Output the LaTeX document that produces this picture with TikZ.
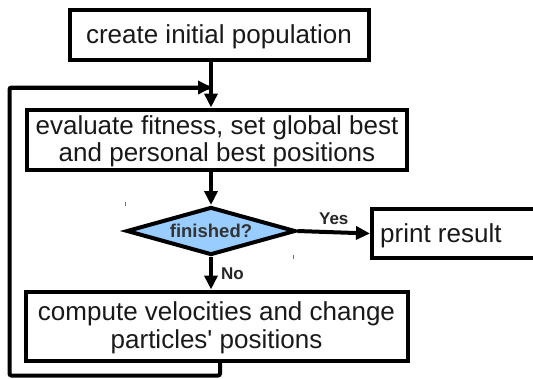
\documentclass[tikz,border=0pt]{standalone}
\usepackage{fontspec}
\setmainfont{Liberation Sans}
\usetikzlibrary{shapes.geometric,arrows.meta}
\definecolor{dblue}{HTML}{99CCFF}
\tikzset{
  box/.style={draw=black, line width=4pt, fill=white, rectangle, inner sep=0pt},
  txt/.style={inner sep=0pt, align=center, font=\fontsize{26}{27.5}\selectfont, text=black!90},
  dec/.style={draw=black, line width=4pt, fill=dblue, diamond, inner sep=0pt, aspect=3.5,
    minimum width=169pt, minimum height=48pt, font=\bfseries\fontsize{18.5}{20}\selectfont, text=black!80},
  lbl/.style={font=\bfseries\fontsize{17}{18}\selectfont, text=black!85, inner sep=0pt},
  conn/.style={line width=4pt, -{Triangle[length=14pt,width=13pt]}},
  loopline/.style={line width=4pt, rounded corners=2pt}
}
\begin{document}
\begin{tikzpicture}[x=1pt,y=-1pt]
\useasboundingbox (0,0) rectangle (533,378);
\fill[white] (0,0) rectangle (533,378);
\node[box, minimum width=299pt, minimum height=50pt] (init) at (219,34.5) {};
\node[txt] (initt) at ([yshift=-2pt]init.center) {create initial population};
\node[box, minimum width=380pt, minimum height=60pt] (eval) at (217,139.5) {};
\node[txt] (evalt) at ([yshift=-2pt]eval.center) {evaluate fitness, set global best\\and personal best positions};
\node[dec] (fin) at (211,231) {finished?};
\node[box, minimum width=168pt, minimum height=49pt, anchor=west] (print) at (370,233.5) {};
\node[txt, anchor=west] (printt) at ([xshift=10pt,yshift=-2pt]print.west) {print result};
\node[box, minimum width=382pt, minimum height=69pt] (comp) at (216.5,326) {};
\node[txt] (compt) at ([yshift=-2pt]comp.center) {compute velocities and change\\particles\textquotesingle\ positions};
\coordinate (join) at (211,87.5);
\coordinate (bl) at (9.5,375.5);
\coordinate (br) at (220,375.5);
\coordinate (tl) at (9.5,87.5);
\draw[conn] (init.south -| join) -- (eval.north -| join);
\draw[conn] (eval.south -| fin.north) -- (fin.north);
\draw[conn] (fin.east) -- node[lbl, above=6pt] {Yes} (print.west);
\draw[conn] (fin.south) -- node[lbl, right=8pt] {No} (comp.north -| fin.south);
\draw[loopline] (comp.south -| br) -- (br) -- (bl) -- (tl) -- ([xshift=-1pt]join);
\draw[conn] (tl) -- ([xshift=1pt]join);
\draw[black!55, line width=1pt] (125.5,202) -- (125.5,206);
\draw[black!55, line width=1pt] (293.5,255) -- (293.5,259);
\end{tikzpicture}
\end{document}
